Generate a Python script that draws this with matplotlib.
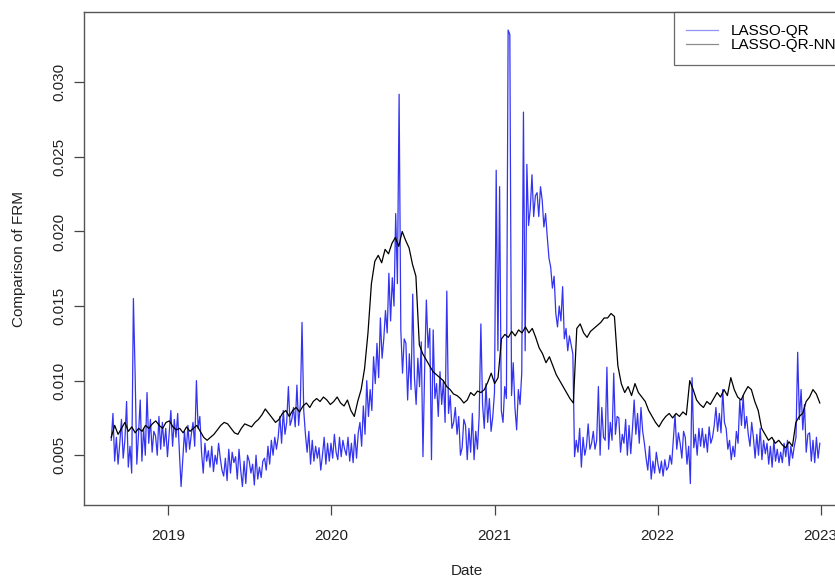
"""
Comparison of the FRM index estimated with LASSO-QR and with LASSO-QR-NN,
daily series from late August 2018 to the end of 2022.
"""

import pandas as pd
import matplotlib
matplotlib.use("Agg")
import matplotlib.pyplot as plt


# ---------------------------------------------------------------------------
# Series (values in units of 1e-3)
# ---------------------------------------------------------------------------
start_date = "2018-08-27"
end_date = "2022-12-30"

# LASSO-QR, about eight readings per month
lasso_qr = [
    6.0, 7.8,                                           # Aug 2018
    4.6, 6.2, 4.4, 5.8, 7.4, 4.8, 6.0, 8.6,             # Sep
    4.2, 5.6, 3.8, 15.5, 10.5, 4.4, 6.4, 8.7,           # Oct
    4.6, 6.8, 5.0, 9.2, 5.8, 7.4, 5.2, 6.6,             # Nov
    6.3, 5.0, 7.6, 5.4, 7.2, 5.6, 6.8, 4.9,             # Dec
    6.5, 8.0, 5.6, 7.4, 6.2, 7.8, 5.2, 2.9,             # Jan 2019
    4.8, 6.6, 5.2, 7.0, 5.4, 6.4, 7.2, 5.6,             # Feb
    10.0, 6.8, 7.6, 5.2, 3.8, 5.8, 4.6, 5.3,            # Mar
    4.2, 5.6, 3.9, 5.0, 4.4, 5.8, 4.8, 4.0,             # Apr
    3.6, 4.8, 3.3, 5.4, 3.8, 5.2, 4.5, 4.9,             # May
    3.4, 5.4, 4.0, 2.9, 4.6, 3.1, 5.0, 4.6,             # Jun
    3.8, 4.4, 3.0, 5.0, 3.4, 4.2, 3.5, 4.6,             # Jul
    4.8, 4.0, 5.6, 4.4, 6.0, 5.0, 6.2, 5.4,             # Aug
    6.2, 7.6, 5.8, 8.0, 6.4, 7.2, 9.6, 7.0,             # Sep
    7.4, 8.2, 6.9, 9.7, 7.0, 8.4, 13.9, 8.0,            # Oct
    6.4, 5.2, 6.6, 4.4, 6.0, 4.6, 5.6, 4.8,             # Nov
    5.5, 4.0, 5.0, 6.2, 4.4, 5.8, 4.6, 5.8,             # Dec
    4.8, 6.4, 5.2, 4.7, 6.2, 4.9, 6.0, 5.4,             # Jan 2020
    5.0, 6.2, 4.6, 5.8, 4.5, 6.4, 4.8, 6.5,             # Feb
    7.2, 5.6, 8.3, 6.4, 10.0, 7.6, 9.4, 8.0,            # Mar
    11.6, 9.8, 12.5, 10.2, 14.2, 11.5, 12.8, 14.7,      # Apr
    13.2, 17.2, 14.0, 16.9, 15.0, 21.2, 16.5, 29.2,     # May
    13.4, 10.5, 12.8, 12.5, 8.7, 11.8, 9.4, 15.8,       # Jun
    10.2, 8.4, 11.5, 9.6, 12.6, 4.9, 10.8, 15.4,        # Jul
    12.2, 13.5, 4.7, 13.4, 8.8, 9.8, 7.6, 10.6,         # Aug
    8.4, 10.0, 7.2, 16.0, 7.8, 9.0, 6.8, 7.2,           # Sep
    8.2, 6.4, 7.6, 5.0, 5.5, 7.4, 7.0, 4.7,             # Oct
    6.8, 5.2, 7.8, 4.7, 6.6, 5.4, 7.6, 13.8,            # Nov
    8.4, 6.8, 9.8, 7.2, 8.8, 6.6, 7.6, 9.2,             # Dec
    24.1, 12.0, 23.0, 8.0, 7.2, 9.6, 8.8, 33.5,         # Jan 2021
    33.2, 9.0, 11.2, 8.2, 6.7, 9.4, 8.4, 10.5,          # Feb
    28.0, 12.0, 24.5, 20.4, 21.5, 23.8, 21.0, 22.4,     # Mar
    22.6, 21.0, 23.0, 22.1, 20.3, 21.2, 19.6, 18.2,     # Apr
    17.6, 16.2, 17.0, 14.5, 13.6, 15.0, 14.0, 16.3,     # May
    12.8, 13.5, 12.0, 13.0, 12.4, 11.8, 4.9, 6.0,       # Jun
    5.2, 6.8, 4.2, 6.2, 5.0, 5.6, 7.1, 5.4,             # Jul
    5.8, 6.6, 5.4, 6.0, 9.6, 5.0, 8.2, 6.2,             # Aug
    6.0, 10.9, 5.4, 7.2, 6.0, 10.5, 6.4, 7.6,           # Sep
    7.5, 5.2, 6.4, 5.8, 7.4, 5.0, 7.0, 5.1,             # Oct
    6.8, 8.7, 6.4, 7.8, 5.8, 8.2, 6.6, 5.8,             # Nov
    4.8, 4.0, 5.6, 3.4, 4.6, 3.8, 5.2, 4.4,             # Dec
    3.8, 4.6, 3.6, 4.7, 4.0, 4.2, 5.0, 4.4,             # Jan 2022
    6.0, 7.7, 5.4, 6.5, 5.8, 4.8, 6.6, 6.2,             # Feb
    4.4, 5.6, 3.1, 10.2, 5.5, 6.4, 5.0, 6.8,            # Mar
    5.6, 6.8, 5.5, 6.4, 5.2, 6.9, 5.8, 6.2,             # Apr
    7.0, 8.2, 6.6, 7.8, 6.5, 9.4, 7.2, 6.8,             # May
    5.4, 6.0, 4.7, 5.6, 4.9, 6.6, 5.8, 8.7,             # Jun
    7.0, 9.0, 6.8, 7.6, 6.4, 5.6, 7.2, 6.2,             # Jul
    4.8, 6.4, 5.0, 6.8, 4.7, 6.0, 5.1, 5.8,             # Aug
    4.4, 5.6, 4.2, 6.0, 4.6, 5.4, 4.5, 5.2,             # Sep
    4.5, 5.8, 4.9, 6.0, 4.3, 5.6, 4.8, 5.6,             # Oct
    6.2, 11.9, 7.4, 9.4, 6.7, 8.4, 5.2, 6.4,            # Nov
    6.5, 4.6, 6.0, 4.5, 6.2, 4.8, 5.8,                  # Dec
]

# LASSO-QR-NN, about one reading per week
lasso_qr_nn = [
    6.2,                                        # Aug 2018
    7.0, 6.4, 6.8, 7.2,                         # Sep
    6.6, 6.9, 6.5, 6.8,                         # Oct
    6.6, 7.0, 6.8, 7.1,                         # Nov
    7.3, 7.0, 6.8, 7.2,                         # Dec
    7.3, 6.9, 6.7, 6.8,                         # Jan 2019
    6.5, 6.9, 6.6, 6.8,                         # Feb
    7.0, 6.6, 6.2, 6.0,                         # Mar
    6.2, 6.4, 6.7, 7.0,                         # Apr
    7.2, 7.1, 6.8, 6.5,                         # May
    6.4, 6.8, 7.1, 7.0,                         # Jun
    6.9, 7.2, 7.4, 7.7,                         # Jul
    8.1, 7.8, 7.5, 7.2,                         # Aug
    7.4, 7.8, 8.0, 7.6,                         # Sep
    8.0, 8.2, 7.9, 8.3,                         # Oct
    8.5, 8.2, 8.6, 8.8,                         # Nov
    8.6, 8.9, 8.7, 8.4,                         # Dec
    8.6, 8.9, 8.5, 8.3,                         # Jan 2020
    8.7, 8.0, 7.6, 8.6,                         # Feb
    9.4, 10.8, 13.2, 16.5,                      # Mar
    18.0, 18.4, 17.9, 18.8,                     # Apr
    18.5, 19.2, 19.6, 19.0,                     # May
    20.0, 19.4, 18.9, 17.8,                     # Jun
    17.0, 12.4, 11.8, 11.4,                     # Jul
    11.0, 10.6, 10.4, 10.2,                     # Aug
    10.0, 9.6, 9.4, 9.1,                        # Sep
    9.0, 8.8, 8.5, 8.7,                         # Oct
    9.2, 9.0, 9.3, 9.2,                         # Nov
    9.4, 9.9, 10.5, 9.8,                        # Dec
    10.2, 12.8, 13.1, 12.9,                     # Jan 2021
    13.3, 13.0, 13.4, 13.2,                     # Feb
    13.6, 13.2, 13.5, 12.9,                     # Mar
    12.2, 11.8, 11.2, 11.6,                     # Apr
    11.0, 10.4, 10.0, 9.6,                      # May
    9.2, 8.8, 8.5, 13.5,                        # Jun
    13.8, 13.2, 12.9, 13.3,                     # Jul
    13.5, 13.7, 13.9, 14.2,                     # Aug
    14.2, 14.5, 14.3, 11.0,                     # Sep
    9.8, 9.2, 9.6, 9.0,                         # Oct
    9.8, 9.2, 8.9, 8.6,                         # Nov
    8.0, 7.6, 7.2, 6.9,                         # Dec
    7.3, 7.6, 7.8, 7.5,                         # Jan 2022
    7.8, 7.6, 7.9, 7.7,                         # Feb
    10.0, 9.4, 8.7, 8.4,                        # Mar
    8.2, 8.6, 8.4, 8.8,                         # Apr
    9.2, 8.9, 9.4, 9.0,                         # May
    10.2, 9.4, 8.9, 8.7,                        # Jun
    9.2, 9.6, 9.4, 8.6,                         # Jul
    8.0, 6.8, 6.4, 6.0,                         # Aug
    6.2, 5.8, 6.0, 5.7,                         # Sep
    5.5, 5.9, 5.6, 7.2,                         # Oct
    7.6, 7.8, 8.6, 8.9,                         # Nov
    9.4, 9.1, 8.5,                              # Dec
]

y_ticks = [0.005, 0.010, 0.015, 0.020, 0.025, 0.030]
year_ticks = ["2019", "2020", "2021", "2022", "2023"]


def as_series(values):
    dates = pd.date_range(start_date, end_date, periods=len(values))
    return dates, [v * 1e-3 for v in values]


# ---------------------------------------------------------------------------
# Plot
# ---------------------------------------------------------------------------
plt.rcParams["font.family"] = ["Liberation Sans", "DejaVu Sans"]
fs = 11

fig = plt.figure(figsize=(8.35, 5.8), dpi=100)
# the plot box runs a little past the right edge of the image
ax = fig.add_axes([0.1006, 0.129, 0.916, 0.850])

d_qr, v_qr = as_series(lasso_qr)
d_nn, v_nn = as_series(lasso_qr_nn)
ax.plot(d_qr, v_qr, color="#1010ee", linewidth=0.9, alpha=0.85, label="LASSO-QR")
ax.plot(d_nn, v_nn, color="black", linewidth=0.9, label="LASSO-QR-NN")

ax.set_xlim(pd.Timestamp("2018-06-27"), pd.Timestamp("2023-03-05"))
ax.set_ylim(0.00165, 0.0347)

ax.set_xticks([pd.Timestamp(f"{y}-01-01") for y in year_ticks])
ax.set_xticklabels(year_ticks)
ax.set_yticks(y_ticks)
ax.set_yticklabels([f"{t:.3f}" for t in y_ticks], rotation=90, va="center")
ax.tick_params(axis="both", length=7, width=0.9, color="#444444",
               labelsize=fs, labelcolor="#222222")
ax.tick_params(axis="x", pad=10)
ax.tick_params(axis="y", pad=6)

for sp in ax.spines.values():
    sp.set_color("#555555")
    sp.set_linewidth(1.0)

ax.set_xlabel("Date", fontsize=fs, color="#222222", labelpad=15)
ax.set_ylabel("Comparison of FRM", fontsize=fs, color="#222222", labelpad=19)

leg = ax.legend(loc="upper right", fontsize=fs, frameon=True, fancybox=False,
                borderaxespad=0, borderpad=0.8, labelspacing=0.0,
                handlelength=2.1, handletextpad=0.85)
leg.get_frame().set_edgecolor("#444444")
leg.get_frame().set_linewidth(0.9)
for h in leg.get_lines():
    h.set_alpha(0.45)

fig.savefig("out.png", dpi=100)
